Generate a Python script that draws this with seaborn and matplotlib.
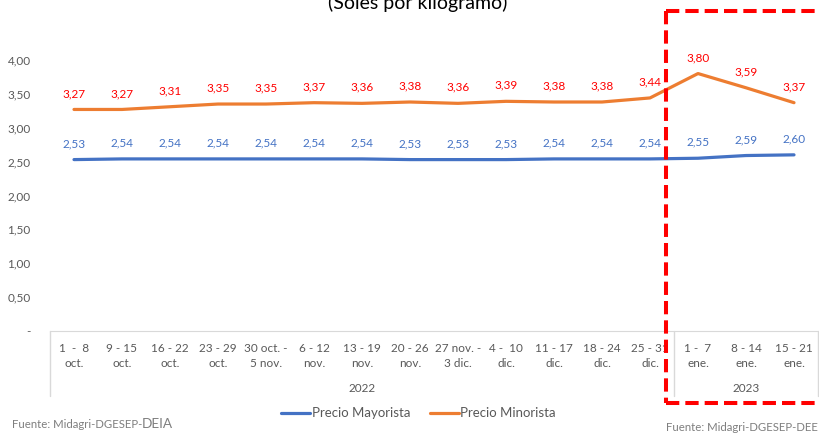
import pandas as pd
import matplotlib.pyplot as plt
from matplotlib.lines import Line2D
import seaborn as sns

# weekly periods
semanas = ["1  -  8\noct.", "9 - 15\noct.", "16 - 22\noct.", "23 - 29\noct.", "30 oct. -\n5 nov.",
           "6 - 12\nnov.", "13 - 19\nnov.", "20 - 26\nnov.", "27 nov. -\n3 dic.", "4 -  10\ndic.",
           "11 - 17\ndic.", "18 - 24\ndic.", "25 - 31\ndic.", "1 -  7\nene.", "8 - 14\nene.", "15 - 21\nene."]
anios = ["2022", "2023"]
n_2022 = 13

mayorista = [2.53, 2.54, 2.54, 2.54, 2.54, 2.54, 2.54, 2.53, 2.53, 2.53, 2.54, 2.54, 2.54, 2.55, 2.59, 2.60]
minorista = [3.27, 3.27, 3.31, 3.35, 3.35, 3.37, 3.36, 3.38, 3.36, 3.39, 3.38, 3.38, 3.44, 3.80, 3.59, 3.37]

sns.set_style("white")
plt.rcParams['font.family'] = ['Lato', 'DejaVu Sans']

df = pd.DataFrame({
    "pos": list(range(len(semanas))) * 2,
    "precio": mayorista + minorista,
    "serie": ["Precio Mayorista"] * len(semanas) + ["Precio Minorista"] * len(semanas),
})

fig = plt.figure(figsize=(8.19, 4.34), dpi=100)
ax = fig.add_axes([50 / 819, 103 / 434, 768 / 819, 271 / 434])

palette = {"Precio Mayorista": "#4472c4", "Precio Minorista": "#ed7d31"}
sns.lineplot(data=df, x="pos", y="precio", hue="serie", palette=palette, linewidth=2.3, ax=ax, legend=True)

ax.set_xlim(-0.5, len(semanas) - 0.5)
ax.set_ylim(0, 4.0)
ax.set_xlabel("")
ax.set_ylabel("")

# y ticks
yt = [0, 0.5, 1.0, 1.5, 2.0, 2.5, 3.0, 3.5, 4.0]
ax.set_yticks(yt)
ax.set_yticklabels(["-" if v == 0 else f"{v:.2f}".replace(".", ",") for v in yt], color="#595959", fontsize=8.5)
ax.tick_params(axis="y", length=0, pad=14)

ax.set_xticks(range(len(semanas)))
ax.set_xticklabels(semanas, color="#595959", fontsize=8.5, linespacing=1.35)
ax.tick_params(axis="x", length=0, pad=9)

for s in ["top", "right", "left"]:
    ax.spines[s].set_visible(False)
ax.spines["bottom"].set_color("#d9d9d9")

# category box lines
tr = ax.get_xaxis_transform()
for xv in [-0.5, n_2022 - 0.5, len(semanas) - 0.5]:
    ax.plot([xv, xv], [0, -0.24], transform=tr, color="#d9d9d9", lw=1, clip_on=False)
ax.text((n_2022 - 1) / 2, -0.211, anios[0], transform=tr, ha="center", va="center", color="#595959", fontsize=8.5)
ax.text((n_2022 + len(semanas) - 1) / 2, -0.211, anios[1], transform=tr, ha="center", va="center", color="#595959", fontsize=8.5)

# data labels
for i, v in enumerate(minorista):
    ax.annotate(f"{v:.2f}".replace(".", ","), (i, v), xytext=(0, 11.5), textcoords="offset points",
                ha="center", va="center", color="#ff0000", fontsize=8.5)
for i, v in enumerate(mayorista):
    ax.annotate(f"{v:.2f}".replace(".", ","), (i, v), xytext=(0, 11.5), textcoords="offset points",
                ha="center", va="center", color="#4472c4", fontsize=8.5)

# legend
ax.legend(loc="center", bbox_to_anchor=(0.511, 0.048), bbox_transform=fig.transFigure, ncol=2,
          frameon=False, fontsize=9.5, handlelength=2.2, handletextpad=0.1, columnspacing=1.5,
          labelcolor="#595959")

# title (cut at top, as in the source image)
fig.text(0.51, 1 - 9 / 434, "(Soles por kilogramo)", ha="center", va="baseline", fontsize=14, color="black")

# sources
fig.text(12 / 819, 1 - 428 / 434, "Fuente: Midagri-DGESEP-", fontsize=8.2, color="#7f7f7f", va="baseline")
fig.text(142 / 819, 1 - 428 / 434, "DEIA", fontsize=9.8, color="#7f7f7f", va="baseline")
fig.text(666 / 819, 1 - 431 / 434, "Fuente: Midagri-DGESEP-DEE", fontsize=8.2, color="#7f7f7f", va="baseline")

# highlight box for 2023 (right edge runs off the image, so only three sides)
x0, x1 = 666 / 819, 818 / 819
y0, y1 = 1 - 403 / 434, 1 - 11 / 434
box_style = dict(color="#ff0000", lw=2.9, linestyle=(0, (3.3, 1.5)), transform=fig.transFigure)
fig.add_artist(Line2D([x0, x1], [y1, y1], **box_style))
fig.add_artist(Line2D([x0, x0], [y1, y0], **box_style))
fig.add_artist(Line2D([x0, x1], [y0, y0], **box_style))

plt.savefig("out.png", dpi=100)
